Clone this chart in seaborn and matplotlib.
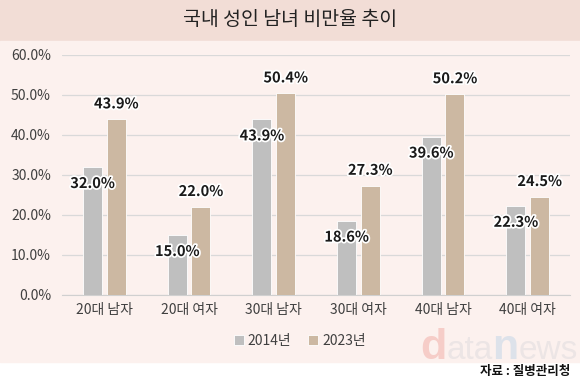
import matplotlib
matplotlib.use("Agg")
import matplotlib.pyplot as plt
import matplotlib.patheffects as pe
import seaborn as sns
import pandas as pd

# data
groups = ["20대 남자", "20대 여자", "30대 남자", "30대 여자", "40대 남자", "40대 여자"]
years = ["2014년", "2023년"]
rate_2014 = [32.0, 15.0, 43.9, 18.6, 39.6, 22.3]
rate_2023 = [43.9, 22.0, 50.4, 27.3, 50.2, 24.5]
y_ticks = [0, 10, 20, 30, 40, 50, 60]

df = pd.DataFrame({
    "group": groups * 2,
    "year": [years[0]] * len(groups) + [years[1]] * len(groups),
    "rate": rate_2014 + rate_2023,
})

sns.set_style("white")
plt.rcParams["font.family"] = ["Noto Sans CJK KR", "DejaVu Sans"]

bg = "#fcf1ee"
fig = plt.figure(figsize=(5.8, 3.83), dpi=100)
fig.patch.set_facecolor("white")

# background bands
fig.add_artist(plt.Rectangle((0, 0.893), 1, 0.107, transform=fig.transFigure,
                             color="#f2ddd6", zorder=-2))
fig.add_artist(plt.Rectangle((0, 0.055), 1, 0.838, transform=fig.transFigure,
                             color=bg, zorder=-2))

# watermark (drawn first so it sits under everything)
wm = dict(family="Liberation Sans", va="baseline", zorder=-1)
t1 = fig.text(0.724, 0.062, "d", fontsize=31, color="#f6cdc8",
              fontweight="bold", **wm)
t2 = fig.text(0, 0, "ata", fontsize=24, color="#ece5e5", **wm)
t3 = fig.text(0, 0, "n", fontsize=31, color="#dde2ea", fontweight="bold", **wm)
t4 = fig.text(0, 0, "ews", fontsize=24, color="#ece5e5", **wm)
fig.canvas.draw()
r = fig.canvas.get_renderer()
x = 0.724
for prev, cur in [(t1, t2), (t2, t3), (t3, t4)]:
    x += prev.get_window_extent(r).width / fig.bbox.width
    cur.set_position((x, 0.062))

ax = fig.add_axes([0.107, 0.2298, 0.876, 0.6266])
ax.set_facecolor("none")

palette = {"2014년": "#bfbfbf", "2023년": "#d3b99b"}
sns.barplot(data=df, x="group", y="rate", hue="year", palette=palette,
            width=0.56, gap=0.2, ax=ax, edgecolor="white", linewidth=0.6,
            zorder=3, legend=True)

ax.set_ylim(0, 60)
ax.set_yticks(y_ticks)
ax.set_yticklabels([f"{v:.1f}%" for v in y_ticks], fontsize=10, color="#404040")
ax.tick_params(axis="x", labelsize=10, labelcolor="#404040", length=0, pad=6)
ax.tick_params(axis="y", length=0, pad=8)
ax.yaxis.grid(True, color="#d9d9d9", linewidth=0.9, zorder=0)
ax.set_axisbelow(True)
for s in ["top", "right", "left"]:
    ax.spines[s].set_visible(False)
ax.spines["bottom"].set_color("#d0d0d0")
ax.set_xlabel("")
ax.set_ylabel("")

halo = [pe.withStroke(linewidth=2.5, foreground="white")]
for cont, off in zip(ax.containers, [-16, 16]):
    for bar in cont:
        h = bar.get_height()
        ax.annotate(f"{h:.1f}%", (bar.get_x() + bar.get_width() / 2, h),
                    xytext=(0, off), textcoords="offset pixels",
                    ha="center", va="center", fontsize=10.5, fontweight="bold",
                    color="#1a1a1a", path_effects=halo, zorder=5)

ax.legend(loc="center", bbox_to_anchor=(0.468, -0.19),
          ncol=2, frameon=False, fontsize=10, handlelength=0.7,
          handleheight=0.7, handletextpad=0.3, columnspacing=1.2,
          labelcolor="#404040")

fig.text(0.5, 0.948, "국내 성인 남녀 비만율 추이", ha="center", va="center",
         fontsize=14, color="#222222")

fig.text(0.983, 0.031, "자료 : 질병관리청", ha="right", va="center",
         fontsize=9, fontweight="bold", color="#111111")

fig.savefig("out.png", dpi=100, facecolor=fig.get_facecolor())
